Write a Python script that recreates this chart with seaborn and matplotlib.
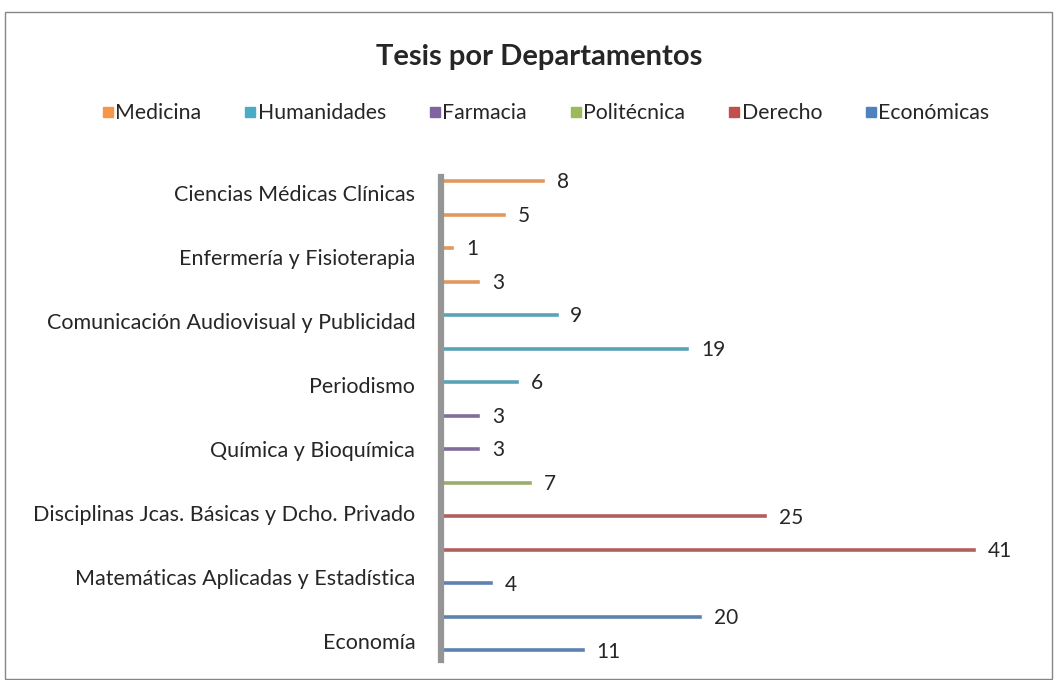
import numpy as np
import pandas as pd
import matplotlib
matplotlib.use("Agg")
import matplotlib.pyplot as plt
import seaborn as sns
from matplotlib.lines import Line2D
from matplotlib.patches import Rectangle

# -----------------------------
# Datos (de arriba a abajo)
# -----------------------------
etiquetas = ["Ciencias Médicas Clínicas", "Enfermería y Fisioterapia",
             "Comunicación Audiovisual y Publicidad", "Periodismo",
             "Química y Bioquímica", "Disciplinas Jcas. Básicas y Dcho. Privado",
             "Matemáticas Aplicadas y Estadística", "Economía"]
tesis = [8, 5, 1, 3, 9, 19, 6, 3, 3, 7, 25, 41, 4, 20, 11]
departamento = ["Medicina", "Medicina", "Medicina", "Medicina",
                "Humanidades", "Humanidades", "Humanidades",
                "Farmacia", "Farmacia",
                "Politécnica",
                "Derecho", "Derecho",
                "Económicas", "Económicas", "Económicas"]
deptos = ["Medicina", "Humanidades", "Farmacia", "Politécnica", "Derecho", "Económicas"]
colores = ["#F79646", "#4BACC6", "#8064A2", "#9BBB59", "#C0504D", "#4F81BD"]

df = pd.DataFrame({"pos": np.arange(len(tesis)), "tesis": tesis, "dept": departamento})

sns.set_style("white")
plt.rcParams["font.family"] = ["Lato", "DejaVu Sans"]

fig = plt.figure(figsize=(10.55, 6.8), dpi=100)
ax = fig.add_axes([0.418, 0.0294, 0.557, 0.71])

sns.barplot(data=df, x="tesis", y="pos", hue="dept", hue_order=deptos,
            palette=colores, orient="y", native_scale=True, dodge=False,
            width=0.15, legend=False, ax=ax)

ax.set_xlim(0, 45)
ax.set_ylim(14.3, -0.1)

# etiquetas de valor
for i, v in enumerate(tesis):
    ax.text(v + 0.9, i + 0.05, str(v), va="center", ha="left", fontsize=15)

# solo una de cada dos categorias lleva nombre (como en Excel)
pos_etiq = 0.36 + np.arange(len(etiquetas)) * 1.91
ax.set_yticks(pos_etiq)
ax.set_yticklabels(etiquetas, fontsize=15.5)
ax.set_xticks([])
ax.set_xlabel("")
ax.set_ylabel("")
ax.tick_params(left=False, bottom=False, pad=15)

for s in ["top", "right", "bottom"]:
    ax.spines[s].set_visible(False)
ax.spines["left"].set_color("#959595")
ax.spines["left"].set_linewidth(4.5)

# titulo y leyenda
fig.text(539 / 1055, 1 - 57 / 680, "Tesis por Departamentos", ha="center", va="center",
         fontsize=21, fontweight="bold")
handles = [Line2D([], [], marker="s", ls="", color=c, markersize=7.5) for c in colores]
fig.legend(handles, deptos, loc="center", bbox_to_anchor=(546 / 1055, 1 - 113 / 680),
           ncol=6, frameon=False, handletextpad=0.1, columnspacing=2.05,
           handlelength=0.5, fontsize=15.3)

# borde del grafico
fig.patches.append(Rectangle((5 / 1055, 0.002), 1047 / 1055, 1 - 12 / 680 - 0.002,
                             transform=fig.transFigure, fill=False,
                             edgecolor="#868686", linewidth=1))

fig.savefig("out.png", dpi=100)
